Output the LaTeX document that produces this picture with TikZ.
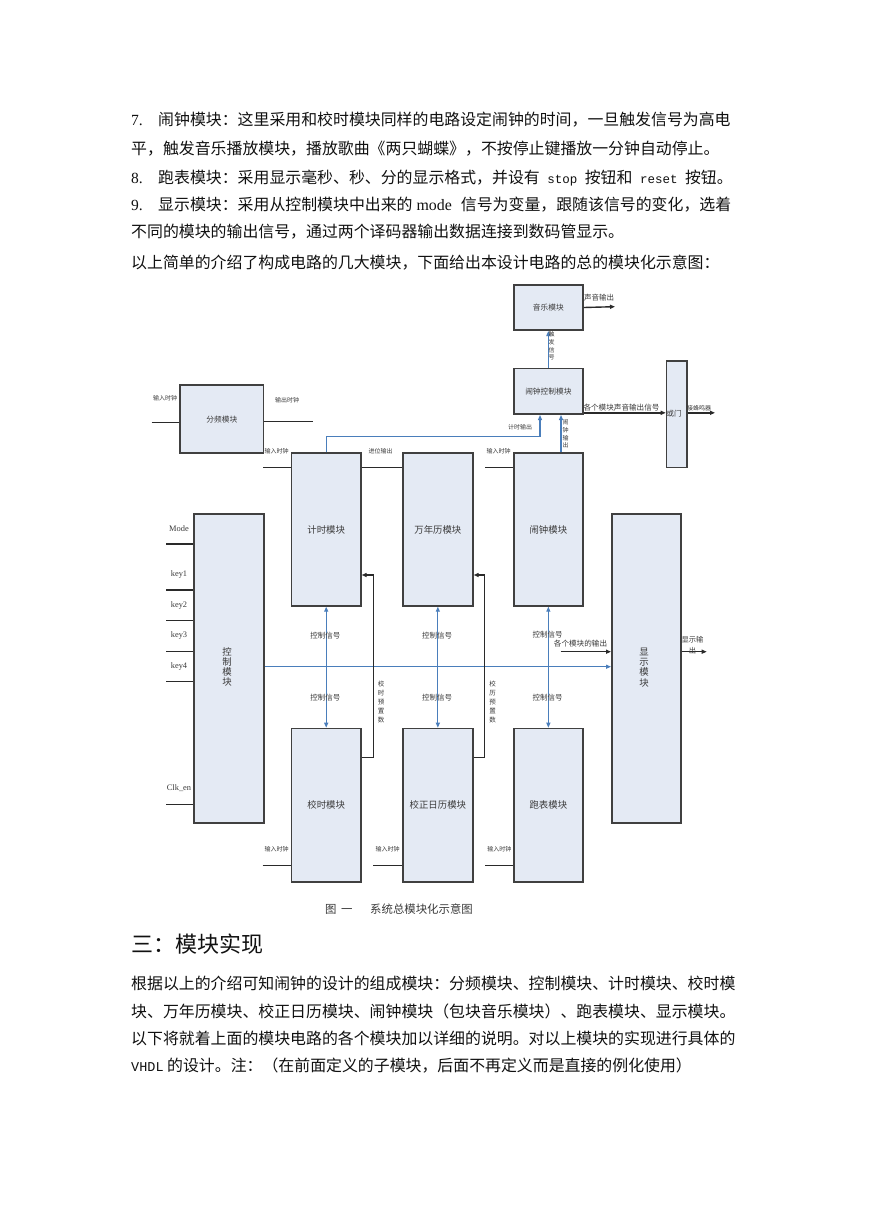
\documentclass[tikz,border=0pt]{standalone}
\usepackage{fontspec}
\setmainfont{Noto Sans CJK SC}
\newfontfamily\tnr{Liberation Serif}
\newfontfamily\mono{Liberation Mono}
\usetikzlibrary{arrows.meta}
\XeTeXinterchartokenstate=1
\newcommand\cjkglue{\hskip 0pt plus 3pt\relax}
\XeTeXinterchartoks 1 1 = {\cjkglue}
\XeTeXinterchartoks 1 2 = {\cjkglue}
\XeTeXinterchartoks 1 3 = {\cjkglue}
\XeTeXinterchartoks 2 1 = {\cjkglue}
\XeTeXinterchartoks 3 1 = {\cjkglue}
\XeTeXinterchartoks 3 2 = {\cjkglue}
\XeTeXinterchartoks 3 3 = {\cjkglue}
\newcommand\fsz[1]{\fontsize{#1}{#1}\selectfont}
\newcommand\fszl[2]{\fontsize{#1}{#2}\selectfont}
\newcommand\bodyfont{\fontsize{15.9}{15.9}\selectfont}
\newcommand\jbox[2]{\hbox to #1{#2}}
\definecolor{boxfill}{HTML}{E4EAF4}
\definecolor{boxline}{HTML}{404040}
\definecolor{bluel}{HTML}{4A7EBB}
\definecolor{lnc}{HTML}{2A2A2A}
\definecolor{txtc}{HTML}{111111}
\definecolor{labc}{HTML}{3A3A3A}
\begin{document}
\begin{tikzpicture}[x=1pt,y=-1pt,
  >={Triangle[length=5pt,width=4pt]},
  blk/.style={draw=boxline, fill=boxfill, line width=1.7pt, inner sep=0pt, anchor=north west, text=labc},
  ln/.style={draw=lnc, line width=1.4pt},
  bl/.style={draw=bluel, line width=1.1pt},
  body/.style={anchor=base west, inner sep=0pt, text=txtc, font=\bodyfont},
  num/.style={anchor=base west, inner sep=0pt, text=txtc, font=\tnr\fsz{15.5}},
  lab/.style={inner sep=0pt, text=labc, font=\fsz{6}},
  vlab/.style={inner sep=0pt, text=labc, align=center, font=\fszl{6}{7.6}},
  ctl/.style={inner sep=0pt, text=labc, font=\fsz{7.5}},
  keyl/.style={inner sep=0pt, text=labc, font=\tnr\fsz{8.4}}]
\fill[white] (0,0) rectangle (869,1228);
\useasboundingbox (0,0) rectangle (869,1228);

% ---------- top text ----------
\node[num] (n7) at (131,125) {7.};
\node[body] (t1) at (158,125) {\jbox{582pt}{闹钟模块：这里采用和校时模块同样的电路设定闹钟的时间，一旦触发信号为高电}};
\node[body] (t2) at (131,154.5) {平，触发音乐播放模块，播放歌曲《两只蝴蝶》，不按停止键播放一分钟自动停止。};
\node[num] (n8) at (131,183) {8.};
\node[body] (t3) at (158,183) {跑表模块：采用显示毫秒、秒、分的显示格式，并设有{\mono\fsz{12.5} stop }按钮和{\mono\fsz{12.5} reset }按钮。};
\node[num] (n9) at (131,210) {9.};
\node[body] (t4) at (158,210) {\jbox{582pt}{显示模块：采用从控制模块中出来的{\tnr\hspace{4pt}mode\hspace{9pt}}信号为变量，跟随该信号的变化，选着}};
\node[body] (t5) at (131,237.5) {不同的模块的输出信号，通过两个译码器输出数据连接到数码管显示。};
\node[body] (t6) at (131,268) {以上简单的介绍了构成电路的几大模块，下面给出本设计电路的总的模块化示意图：};

% ---------- boxes ----------
\node[blk, minimum width=83.4, minimum height=68, font=\fsz{7.7}] (fenpin) at (179.3,384.3) {分频模块};
\node[blk, minimum width=69.3, minimum height=152.7, font=\fsz{9.4}] (jishi) at (290.7,452.3) {计时模块};
\node[blk, minimum width=70, minimum height=152.7, font=\fsz{9.4}] (wannian) at (402,452.3) {万年历模块};
\node[blk, minimum width=69, minimum height=152.7, font=\fsz{9.4}] (naozhong) at (513,452.3) {闹钟模块};
\node[blk, minimum width=69, minimum height=45.3, font=\fsz{7.7}] (yinyue) at (513,284) {音乐模块};
\node[blk, minimum width=69, minimum height=45.6, font=\fsz{7.7}] (nzctrl) at (513,367.7) {闹钟控制模块};
\node[blk, minimum width=20.3, minimum height=106.7] (huomen) at (665.7,360) {};
\node[blk, minimum width=70, minimum height=308.7] (kongzhi) at (193.3,513.3) {};
\node[blk, minimum width=69, minimum height=308.7] (xianshi) at (611,513.3) {};
\node[blk, minimum width=69.3, minimum height=153.3, font=\fsz{9.4}] (jiaoshi) at (290.7,727.7) {校时模块};
\node[blk, minimum width=70, minimum height=153.3, font=\fsz{9.4}] (jiaozheng) at (402,727.7) {校正日历模块};
\node[blk, minimum width=69, minimum height=153.3, font=\fsz{9.4}] (paobiao) at (513,727.7) {跑表模块};

\node[inner sep=0pt, text=labc, font=\fsz{7.5}] (hmlab) at (674,413.3) {或门};
\node[inner sep=0pt, text=labc, align=center, font=\fszl{9.4}{10}] (kzlab) at (227,667) {控\\制\\模\\块};
\node[inner sep=0pt, text=labc, align=center, font=\fszl{9.4}{10.3}] (xslab) at (644,667.5) {显\\示\\模\\块};

% ---------- left inputs ----------
\coordinate (fin) at (151.7,422.7);
\draw[ln] (fin) -- (fin -| fenpin.west);
\coordinate (fout) at (313,421.3);
\draw[ln] (fout -| fenpin.east) -- (fout);
\node[lab] (l1) at (165,398) {输入时钟};
\node[lab] (l2) at (287,400.7) {输出时钟};

\coordinate (jin) at (263.3,467.3);
\draw[ln] (jin) -- (jin -| jishi.west);
\draw[ln] (jin -| jishi.east) -- (jin -| wannian.west);
\coordinate (nin) at (485,467.3);
\draw[ln] (nin) -- (nin -| naozhong.west);
\node[lab] (l3) at (276.7,451.5) {输入时钟};
\node[lab] (l4) at (380.5,451.5) {进位输出};
\node[lab] (l5) at (498.5,451.5) {输入时钟};

% ---------- alarm / music ----------
\coordinate (jsout) at (540,436.7);
\draw[bl,->] (jishi.north) |- (jsout) -- (jsout |- nzctrl.south);
\node[lab] (l6) at (520,427.5) {计时输出};
\coordinate (nzo) at (561,452.3);
\draw[bl,->] (nzo) -- (nzo |- nzctrl.south);
\node[vlab] (l7) at (565.5,434) {闹\\钟\\输\\出};
\draw[bl,->] (nzctrl.north) -- (yinyue.south);
\node[vlab] (l8) at (551.5,346) {触\\发\\信\\号};
\coordinate (sndout) at (615,306.7);
\draw[ln,->] (yinyue.east) -- (sndout);
\node[ctl] (l9) at (599,297.5) {声音输出};
\coordinate (hmy) at (600,412.8);
\draw[ln,->] (hmy -| nzctrl.east) -- (hmy -| huomen.west);
\node[ctl, font=\fsz{7.6}] (l10) at (621.5,407.5) {各个模块声音输出信号};
\coordinate (hmout) at (715,412.8);
\draw[ln,->] (hmy -| huomen.east) -- (hmout);
\node[lab] (l11) at (699,408.5) {接蜂鸣器};

% ---------- control inputs ----------
\foreach \yy/\nm/\tx/\ty in {544/mode/Mode/528.3, 590/k1/key1/574.3, 620.7/k2/key2/605, 651.7/k3/key3/635, 681.7/k4/key4/666, 804.3/clk/Clk\_en/788}{
  \coordinate (c\nm) at (166,\yy);
  \draw[ln] (c\nm) -- (c\nm -| kongzhi.west);
  \node[keyl] (lab\nm) at (179,\ty) {\tx};
}

% ---------- control signals ----------
\coordinate (ctlc) at (400,666.7);
\draw[bl,->] (ctlc -| kongzhi.east) -- (ctlc -| xianshi.west);
\draw[bl,<->] (jishi.south) -- (jiaoshi.north);
\draw[bl,<->] (wannian.south) -- (jiaozheng.north);
\draw[bl,<->] (naozhong.south) -- (paobiao.north);
\node[ctl] (c1) at (325.3,636) {控制信号};
\node[ctl] (c2) at (325.3,697.3) {控制信号};
\node[ctl] (c3) at (437,636) {控制信号};
\node[ctl] (c4) at (437,697.3) {控制信号};
\node[ctl] (c5) at (547.5,635) {控制信号};
\node[ctl] (c6) at (547.5,697.3) {控制信号};

% ---------- preset feedback ----------
\coordinate (fb1) at (373.3,757.7);
\coordinate (fb1t) at (373.3,575);
\draw[ln,->] (fb1 -| jiaoshi.east) -- (fb1) -- (fb1t) -- (fb1t -| jishi.east);
\node[inner sep=0pt, text=labc, align=center, font=\fszl{6.5}{9}] (p1) at (381,702) {校\\时\\预\\置\\数};
\coordinate (fb2) at (484.3,757.7);
\coordinate (fb2t) at (484.3,575);
\draw[ln,->] (fb2 -| jiaozheng.east) -- (fb2) -- (fb2t) -- (fb2t -| wannian.east);
\node[inner sep=0pt, text=labc, align=center, font=\fszl{6.5}{9}] (p2) at (492.5,702) {校\\历\\预\\置\\数};

% ---------- display ----------
\coordinate (gin) at (560.7,651.7);
\draw[ln,->] (gin) -- (gin -| xianshi.west);
\node[ctl, font=\fsz{7.6}] (l12) at (580.5,643.3) {各个模块的输出};
\coordinate (xout) at (706.7,651.7);
\draw[ln,->] (xout -| xianshi.east) -- (xout);
\node[inner sep=0pt, text=labc, align=center, font=\fszl{7.3}{11.5}] (l13) at (692.5,645) {显示输\\出};

% ---------- bottom inputs ----------
\coordinate (b1) at (262.7,865.7);
\draw[ln] (b1) -- (b1 -| jiaoshi.west);
\coordinate (b2) at (373.3,865.7);
\draw[ln] (b2) -- (b2 -| jiaozheng.west);
\coordinate (b3) at (485,865.7);
\draw[ln] (b3) -- (b3 -| paobiao.west);
\node[lab] (l14) at (276.5,849.3) {输入时钟};
\node[lab] (l15) at (387.7,849.3) {输入时钟};
\node[lab] (l16) at (499.3,849.3) {输入时钟};

% ---------- caption ----------
\node[anchor=base west, inner sep=0pt, text=labc, font=\fsz{11.4}] (cap) at (325,913.3) {图\hspace{4.6pt}一\hspace{17.6pt}系统总模块化示意图};

% ---------- bottom text ----------
\node[anchor=base west, inner sep=0pt, text=txtc, font=\fsz{22}] (h3) at (131,952.4) {三：模块实现};
\node[body] (b1t) at (131,989) {\jbox{607pt}{根据以上的介绍可知闹钟的设计的组成模块：分频模块、控制模块、计时模块、校时模}};
\node[body] (b2t) at (131,1017) {\jbox{607pt}{块、万年历模块、校正日历模块、闹钟模块（包块音乐模块）、跑表模块、显示模块。}};
\node[body] (b3t) at (131,1044) {\jbox{607pt}{以下将就着上面的模块电路的各个模块加以详细的说明。对以上模块的实现进行具体的}};
\node[body] (b4t) at (131,1071) {{\mono\fsz{13.5}VHDL} 的设计。注：（在前面定义的子模块，后面不再定义而是直接的例化使用）};
\end{tikzpicture}
\end{document}
